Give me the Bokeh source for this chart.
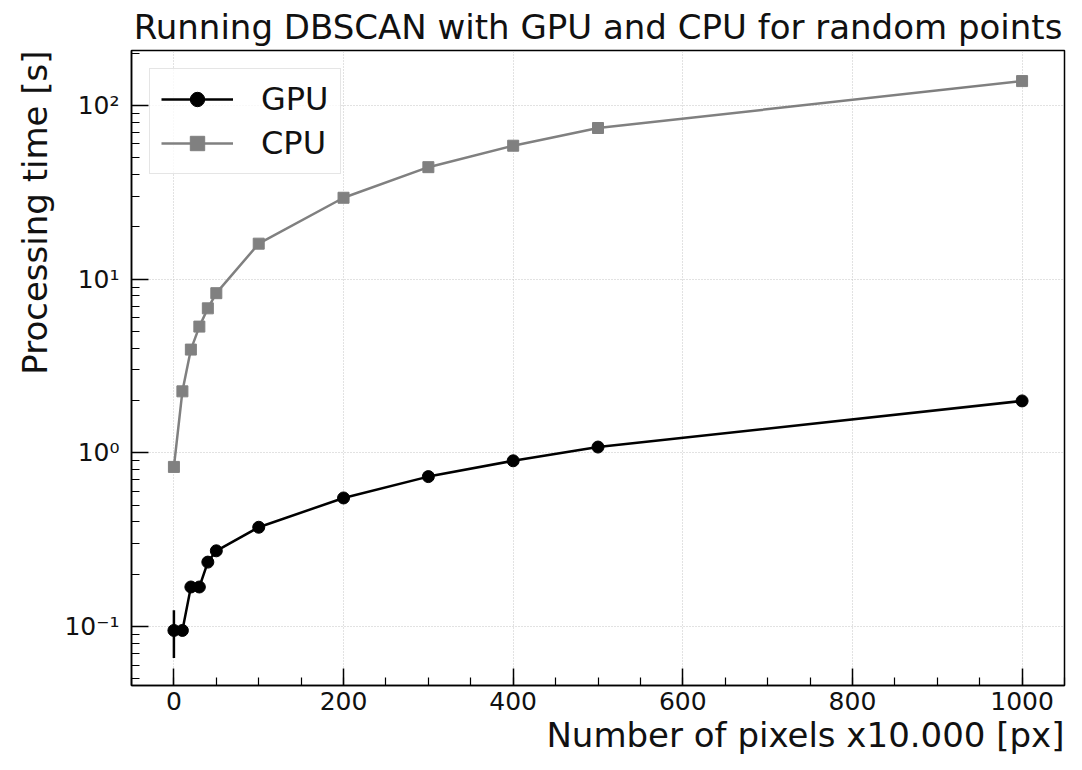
import numpy as np
from bokeh.plotting import figure
from bokeh.models import (CustomJSTickFormatter, FixedTicker, Title,
                          Range1d, Legend, LegendItem, ColumnDataSource)
from bokeh.embed import file_html
from bokeh.resources import INLINE

# ---- data ----
x_pixels = [0, 10, 20, 30, 40, 50, 100, 200, 300, 400, 500, 1000]
gpu_time = [0.095, 0.095, 0.169, 0.169, 0.235, 0.273, 0.373, 0.55, 0.73, 0.90, 1.08, 1.99]
gpu_err = [0.029, 0.004, 0.005, 0.005, 0.006, 0.006, 0.008, 0.01, 0.012, 0.015, 0.02, 0.03]
cpu_time = [0.83, 2.26, 3.93, 5.33, 6.79, 8.30, 16.0, 29.4, 44.1, 58.6, 74.1, 138.0]
cpu_err = [0.02, 0.05, 0.08, 0.1, 0.12, 0.15, 0.3, 0.5, 0.8, 1.0, 1.2, 2.5]
x_major = [0, 200, 400, 600, 800, 1000]
y_major = [0.1, 1, 10, 100]
x_label = "Number of pixels x10.000 [px]"
y_label = "Processing time [s]"

FONT = "DejaVu Sans"

p = figure(width=1066, height=754, y_axis_type="log",
           x_range=Range1d(-50, 1050), y_range=Range1d(0.0458, 207),
           output_backend="svg", toolbar_location=None,
           title="Running DBSCAN with GPU and CPU for random points",
           min_border_left=131, min_border_right=2, min_border_top=44, min_border_bottom=60)

p.title.text_font = FONT
p.title.text_font_size = "34px"
p.title.text_font_style = "normal"
p.title.align = "center"
p.title.text_color = "#111111"
p.title.standoff = 8

p.outline_line_color = "black"
p.outline_line_width = 1.5
p.background_fill_color = "white"
p.border_fill_color = "white"

# ticks
x_minor = list(np.arange(-50, 1051, 50))
y_minor = []
for dec in [0.01, 0.1, 1, 10, 100]:
    for k in range(2, 10):
        y_minor.append(dec * k)
p.xaxis.ticker = FixedTicker(ticks=x_major, minor_ticks=x_minor)
p.yaxis.ticker = FixedTicker(ticks=y_major, minor_ticks=y_minor)
p.yaxis.formatter = CustomJSTickFormatter(code="""
const sup = {"-":"\u207b","0":"\u2070","1":"\u00b9","2":"\u00b2","3":"\u00b3","4":"\u2074","5":"\u2075","6":"\u2076","7":"\u2077","8":"\u2078","9":"\u2079"};
const e = Math.round(Math.log10(tick));
return "10" + String(e).split("").map(c => sup[c]).join("");
""")

for ax in (p.xaxis[0], p.yaxis[0]):
    ax.major_tick_in = 17
    ax.major_tick_out = 0
    ax.minor_tick_in = 8
    ax.minor_tick_out = 0
    ax.major_tick_line_color = "black"
    ax.minor_tick_line_color = "black"
    ax.major_tick_line_width = 1.5
    ax.minor_tick_line_width = 1.2
    ax.axis_line_color = "black"
    ax.axis_line_width = 1.5
    ax.major_label_text_font = FONT
    ax.major_label_text_font_size = "25px"
    ax.major_label_text_color = "#111111"

p.xaxis.major_label_standoff = 6
p.yaxis.major_label_standoff = 12

# axis labels as end-aligned titles
xl = Title(text=x_label, align="right", text_font=FONT, text_font_size="34px",
           text_font_style="normal", text_color="#111111", standoff=0, offset=0)
yl = Title(text=y_label, align="right", text_font=FONT, text_font_size="34px",
           text_font_style="normal", text_color="#111111", standoff=13, offset=0)
p.add_layout(xl, "below")
p.add_layout(yl, "left")

p.xgrid.ticker = FixedTicker(ticks=x_major)
p.ygrid.ticker = FixedTicker(ticks=y_major)
for g in (p.xgrid[0], p.ygrid[0]):
    g.grid_line_color = "#c4c4c4"
    g.grid_line_dash = "1 2"
    g.grid_line_width = 1

# data sources
gpu_src = ColumnDataSource(dict(x=x_pixels, y=gpu_time,
                                lo=[t - e for t, e in zip(gpu_time, gpu_err)],
                                hi=[t + e for t, e in zip(gpu_time, gpu_err)]))
cpu_src = ColumnDataSource(dict(x=x_pixels, y=cpu_time,
                                lo=[t - e for t, e in zip(cpu_time, cpu_err)],
                                hi=[t + e for t, e in zip(cpu_time, cpu_err)]))

GPU_C = "black"
CPU_C = "#808080"

g_err = p.segment(x0="x", y0="lo", x1="x", y1="hi", source=gpu_src, line_color=GPU_C, line_width=2.5)
g_line = p.line("x", "y", source=gpu_src, line_color=GPU_C, line_width=2.5)
g_pts = p.scatter("x", "y", source=gpu_src, marker="circle", size=12, fill_color=GPU_C, line_color=GPU_C)

c_err = p.segment(x0="x", y0="lo", x1="x", y1="hi", source=cpu_src, line_color=CPU_C, line_width=2.5)
c_line = p.line("x", "y", source=cpu_src, line_color=CPU_C, line_width=2.5)
c_pts = p.scatter("x", "y", source=cpu_src, marker="square", size=11, fill_color=CPU_C, line_color=CPU_C)

legend = Legend(items=[LegendItem(label="GPU", renderers=[g_line, g_pts]),
                       LegendItem(label="CPU", renderers=[c_line, c_pts])],
                location="top_left")
legend.margin = 18
legend.padding = 11
legend.spacing = 6
legend.glyph_width = 72
legend.glyph_height = 36
legend.label_standoff = 28
legend.label_text_font = FONT
legend.label_text_font_size = "32px"
legend.label_text_color = "#111111"
legend.border_line_color = "#cccccc"
legend.border_line_width = 1.2
legend.background_fill_alpha = 0.8
p.add_layout(legend)

open("out.html", "w").write(file_html(p, INLINE))
